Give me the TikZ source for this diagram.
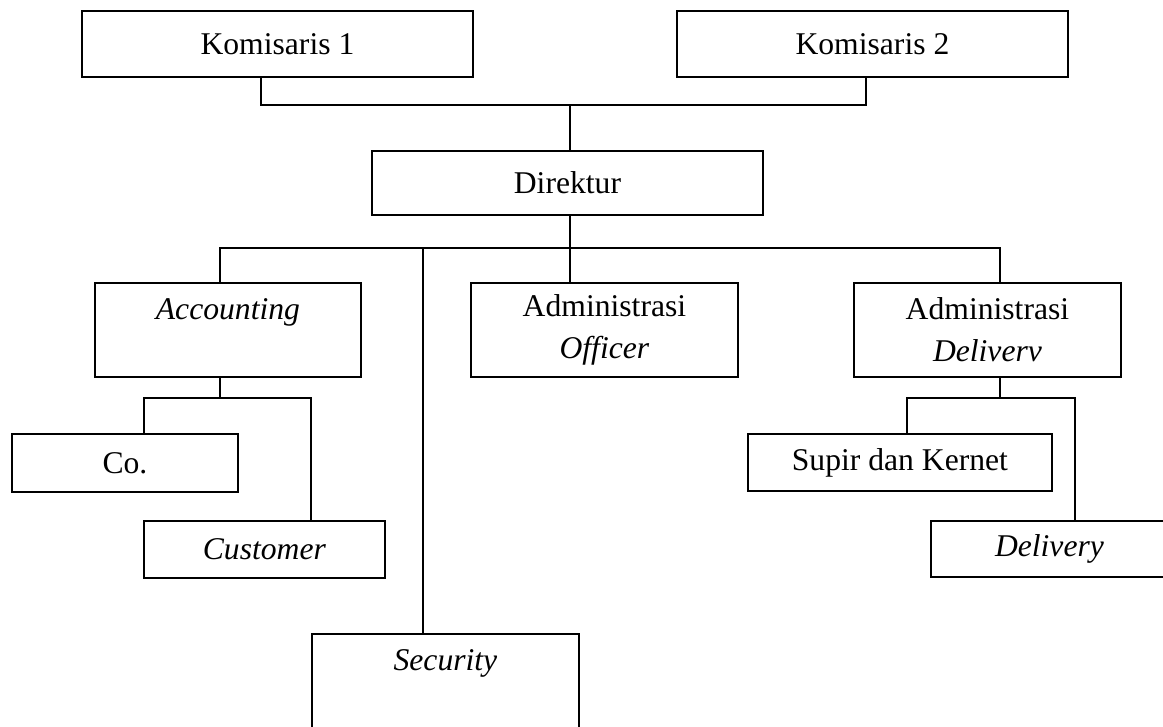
\documentclass[tikz,border=0pt]{standalone}
\usepackage{fontspec}
\setmainfont{Liberation Serif}
\begin{document}
\begin{tikzpicture}[
	x=0.015cm, y=-0.015cm,
	every node/.style={font=\fontsize{13.5}{18}\selectfont},
	kotak/.style={draw, line width=0.8pt, align=center, inner sep=0pt, anchor=north west},
	garis/.style={draw, line width=0.8pt}
	]
	\clip (0,0) rectangle (1163,727);
	
	% Komisaris dan Direktur
	\node[kotak, minimum width=5.865cm, minimum height=0.99cm] (kom1) at (81,10) {Komisaris 1};
	\node[kotak, minimum width=5.865cm, minimum height=0.99cm] (kom2) at (676,10) {Komisaris 2};
	\node[kotak, minimum width=5.865cm, minimum height=0.96cm] (dir) at (371,150) {Direktur};
	
	% Bagian di bawah Direktur
	\node[kotak, minimum width=3.99cm, minimum height=1.41cm] (acc) at (94,282) {\textit{Accounting}\\\mbox{}};
	\node[kotak, minimum width=4.005cm, minimum height=1.41cm] (ao) at (470,282) {Administrasi\\\textit{Officer}};
	\node[kotak, minimum width=4.005cm, minimum height=1.41cm] (ad) at (853,282) {Administrasi\\\textit{Deliverv}};
	\node[kotak, minimum width=4.005cm, minimum height=1.41cm] (sec) at (311,633) {\textit{Security}\\\mbox{}};
	
	% Staf
	\node[kotak, minimum width=3.39cm, minimum height=0.87cm] (co) at (11,433) {Co.};
	\node[kotak, minimum width=3.615cm, minimum height=0.855cm] (cust) at (143,520) {\textit{Customer}};
	\node[kotak, minimum width=4.56cm, minimum height=0.855cm] (supir) at (747,433) {Supir dan Kernet};
	\node[kotak, minimum width=3.555cm, minimum height=0.84cm] (deliv) at (930,520) {\textit{Delivery}};
	
	% Komisaris ke Direktur
	\coordinate (kom1b) at (261,105);
	\coordinate (kom2b) at (866,105);
	\coordinate (dirt) at (570,105);
	\draw[garis] (kom1.south -| kom1b) -- (kom1b) -- (kom2b) -- (kom2.south -| kom2b);
	\draw[garis] (dirt) -- (dirt |- dir.north);
	
	% Direktur ke bagian
	\coordinate (bagL) at (220,248);
	\coordinate (bagR) at (1000,248);
	\coordinate (secb) at (423,248);
	\coordinate (aob) at (570,248);
	\draw[garis] (dir.south -| aob) -- (aob);
	\draw[garis] (acc.north -| bagL) -- (bagL) -- (bagR) -- (ad.north -| bagR);
	\draw[garis] (secb) -- (secb |- sec.north);
	\draw[garis] (aob) -- (aob |- ao.north);
	
	% Accounting ke Co. dan Customer
	\coordinate (accb) at (220,398);
	\coordinate (cob) at (144,398);
	\coordinate (custb) at (311,398);
	\draw[garis] (acc.south -| accb) -- (accb);
	\draw[garis] (co.north -| cob) -- (cob) -- (custb) -- (cust.north -| custb);
	
	% Administrasi Delivery ke Supir dan Delivery
	\coordinate (adb) at (1000,398);
	\coordinate (supb) at (907,398);
	\coordinate (delb) at (1075,398);
	\draw[garis] (ad.south -| adb) -- (adb);
	\draw[garis] (supir.north -| supb) -- (supb) -- (delb) -- (deliv.north -| delb);
	
\end{tikzpicture}
\end{document}
